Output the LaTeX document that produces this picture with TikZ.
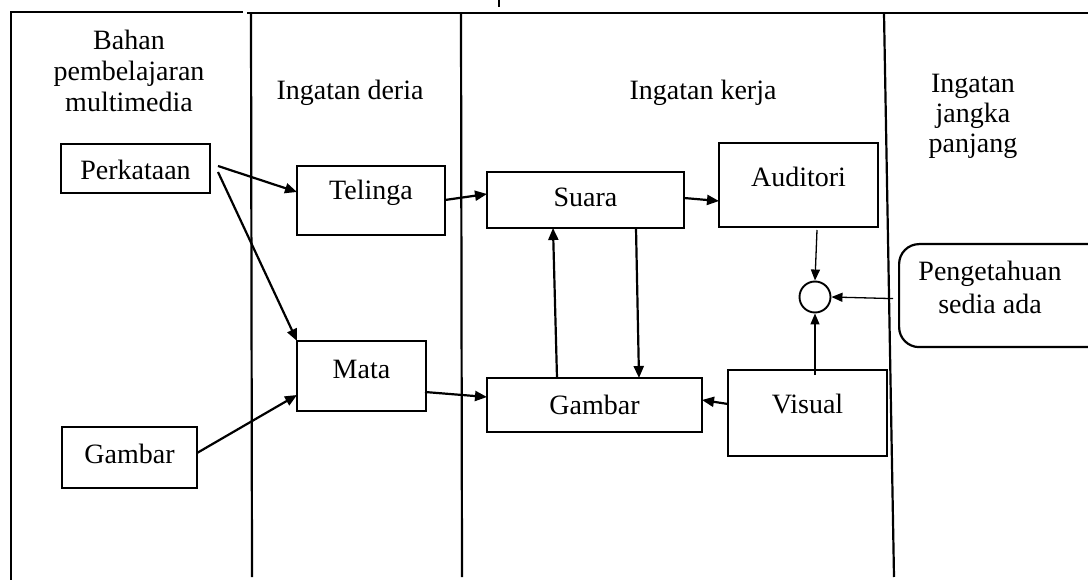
\documentclass[tikz,border=0pt]{standalone}
\usepackage{fontspec}
\setmainfont{Liberation Serif}
\usetikzlibrary{arrows.meta,calc}
\begin{document}
\begin{tikzpicture}[x=1pt,y=-1pt,
 box/.style={draw,line width=2.2pt,inner sep=0pt,outer sep=0pt,anchor=north west},
 lbl/.style={font=\fontsize{28}{31}\selectfont},
 hdr/.style={font=\fontsize{28}{31}\selectfont,anchor=base,inner sep=0pt},
 arr/.style={line width=2.2pt,-{Triangle[length=12pt,width=10pt]}},
 thinarr/.style={line width=1.3pt,-{Triangle[length=11pt,width=9pt]}},
 wall/.style={line width=2.2pt}]
\useasboundingbox (0,0) rectangle (1088,580);
% frame and lane dividers
\coordinate (tl) at (11,12);
\coordinate (bl) at (11,582);
\draw[wall] (bl) -- (tl) -- (243,12);
\draw[wall] (247,13) -- (1090,13);
\draw[line width=1.2pt] (499,0) -- (499,7);
\draw[wall] (251,13) -- (252,577);
\draw[wall] (461,13) -- (462,577);
\draw[wall] (884,13) -- (894,577);
% headers
\node[hdr] (h1a) at (129,50) {Bahan};
\node[hdr] (h1b) at (129,81) {pembelajaran};
\node[hdr] (h1c) at (129,112) {multimedia};
\node[hdr] (h2) at (350,100) {Ingatan deria};
\node[hdr] (h3) at (703,100) {Ingatan kerja};
\node[hdr] (h4a) at (973,93) {Ingatan};
\node[hdr] (h4b) at (973,123) {jangka};
\node[hdr] (h4c) at (973,153) {panjang};
% boxes
\node[box,lbl,minimum width=149pt,text height=36pt,text depth=13pt] (perk) at (61,144) {Perkataan};
\node[box,lbl,minimum width=135pt,text height=36pt,text depth=25pt] (gbl) at (62,427) {Gambar};
\node[box,lbl,minimum width=148pt,text height=34pt,text depth=35pt] (tel) at (297,166) {Telinga};
\node[box,lbl,minimum width=129pt,text height=37pt,text depth=33pt] (mata) at (297,341) {Mata};
\node[box,lbl,minimum width=197pt,text height=35pt,text depth=21pt] (suara) at (487,172) {Suara};
\node[box,lbl,minimum width=215pt,text height=36pt,text depth=18pt] (gbw) at (487,378) {Gambar};
\node[box,lbl,minimum width=159pt,text height=44pt,text depth=40pt] (aud) at (719,143) {Auditori};
\node[box,lbl,minimum width=159pt,text height=43pt,text depth=43pt] (vis) at (728,370) {Visual};
\node[draw,circle,line width=1.9pt,minimum size=31pt,inner sep=0pt] (circ) at (815,297) {};
\node[draw,line width=2.2pt,rounded corners=20pt,minimum width=220pt,minimum height=103pt,anchor=north west,inner sep=0pt] (peng) at (898,243) {};
\node[hdr] (pengt1) at (990,281) {Pengetahuan};
\node[hdr] (pengt2) at (990,314) {sedia ada};
% connectors
\draw[arr] ($(perk.north east)+(8,22)$) -- ($(tel.north west)+(0,26)$);
\draw[arr] ($(perk.north east)+(8,28)$) -- (mata.north west);
\draw[arr] ($(gbl.north east)+(0,26)$) -- ($(mata.north west)+(0,54)$);
\draw[arr] ($(tel.north east)+(0,34)$) -- ($(suara.north west)+(0,22)$);
\draw[arr] ($(mata.north east)+(-1,51)$) -- ($(gbw.north west)+(0,19)$);
\draw[arr] ($(suara.north east)+(0,26)$) -- ($(aud.north west)+(0,58)$);
\draw[arr] ($(gbw.north west)+(70,0)$) -- ($(suara.south west)+(66,0)$);
\draw[arr] ($(suara.south west)+(149,0)$) -- ($(gbw.north west)+(152,0)$);
\draw[arr] ($(vis.north west)+(0,34)$) -- ($(gbw.north east)+(0,22)$);
\draw[thinarr] ($(aud.south west)+(98,3)$) -- (circ.north);
\draw[thinarr] ($(peng.west)+(-5,3)$) -- (circ.east);
\draw[thinarr] ($(vis.north west)+(87,5)$) -- (circ.south);
\end{tikzpicture}
\end{document}
